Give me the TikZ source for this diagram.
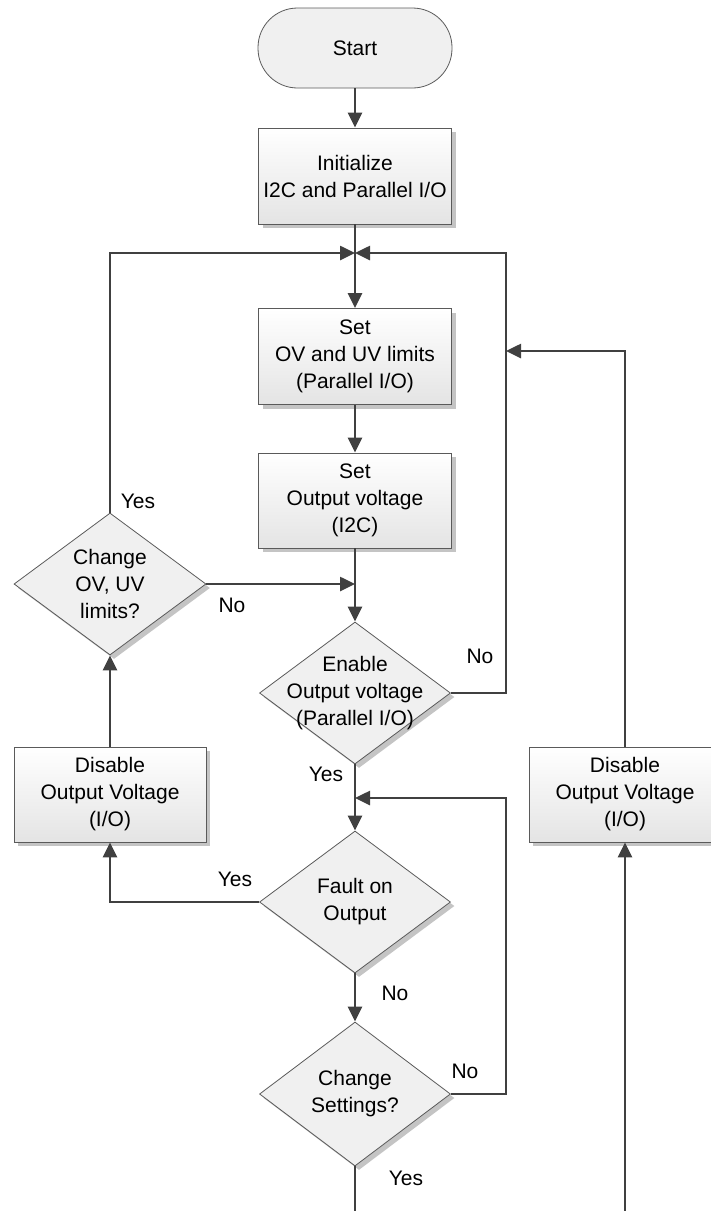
\documentclass[tikz,border=0pt]{standalone}
\usepackage{fontspec}
\setmainfont{Liberation Sans}
\usepackage{tikz}
\usetikzlibrary{arrows.meta,calc,positioning,shapes.geometric,shadows}
\definecolor{Wire}{HTML}{404040}
\definecolor{Edge}{HTML}{5A5A5A}
\definecolor{BoxTop}{HTML}{FFFFFF}
\definecolor{BoxBot}{HTML}{E4E4E4}
\definecolor{Diamond}{HTML}{F0F0F0}
\definecolor{Shade}{HTML}{C4C4C4}

\begin{document}
\begin{tikzpicture}[x=1pt,y=-1pt,
      font=\fontsize{21}{27}\selectfont,
      terminal/.style={rectangle,rounded corners=39.5pt,draw=Edge,fill=Diamond,
                       line width=0.8pt,minimum width=194pt,minimum height=80pt},
      process/.style={rectangle,draw=Edge,line width=0.8pt,top color=BoxTop,
                      bottom color=BoxBot,minimum width=193pt,minimum height=96pt,
                      align=center,inner sep=2pt,
                      drop shadow={shadow xshift=4pt,shadow yshift=-4pt,
                                   fill=Shade,opacity=1}},
      decision/.style={diamond,draw=Edge,fill=Diamond,line width=0.8pt,
                       minimum width=191pt,minimum height=142pt,inner sep=0pt,
                       drop shadow={shadow xshift=4pt,shadow yshift=-4pt,
                                    fill=Shade,opacity=1}},
      dtext/.style={align=center,inner sep=0pt},
      flow/.style={-{Triangle[length=15pt,width=14pt]},line width=2.6pt,draw=Wire},
      wire/.style={line width=2.6pt,draw=Wire}]
    \useasboundingbox (0,0) rectangle (711,1211);
    \clip (0,0) rectangle (711,1211);

    % main column
    \node[terminal] (start) at (355,48) {Start};
    \node[process] (init) at (355,176) {Initialize\\I2C and Parallel I/O};
    \node[process] (setlim) at (355,356.5) {Set\\OV and UV limits\\(Parallel I/O)};
    \node[process,minimum height=95pt] (setout) at (355,500.5)
      {Set\\Output voltage\\(I2C)};
    \node[decision] (enable) at (355,693) {};
    \node[dtext] (enable-t) at (enable) {Enable\\Output voltage\\(Parallel I/O)};
    \node[decision] (fault) at (355,902) {};
    \node[dtext] (fault-t) at (fault) {Fault on\\Output};
    \node[decision,minimum height=144pt] (chgset) at (355,1094) {};
    \node[dtext] (chgset-t) at (chgset) {Change\\Settings?};

    % side branches
    \node[decision,minimum width=192pt] (chgov) at (110,584) {};
    \node[dtext] (chgov-t) at (chgov) {Change\\OV, UV\\limits?};
    \node[process,minimum width=192pt,minimum height=95pt] (disL) at (110,794.5)
      {Disable\\Output Voltage\\(I/O)};
    \node[process,minimum width=192pt,minimum height=95pt] (disR) at (625,794.5)
      {Disable\\Output Voltage\\(I/O)};

    \coordinate (jtop) at (355,253);
    \coordinate (jmid) at (355,798);
    \coordinate (rjoin) at (506,351);
    \coordinate (endL) at (355,1215);
    \coordinate (endR) at (625,1215);

    % connectors
    \draw[flow] (start) -- (init);
    \draw[flow] (init) -- (setlim);
    \draw[flow] (setlim) -- (setout);
    \draw[flow] (setout) -- (enable);
    \draw[flow] (enable) -- (fault);
    \draw[flow] (fault) -- (chgset);
    \draw[flow] (chgov.north) |- (jtop);
    \draw[flow] (enable.east) -- (rjoin |- enable.east) |- (jtop);
    \draw[flow] (chgov.east) -- (chgov.east -| setout.south);
    \draw[flow] (chgset.east) -- (rjoin |- chgset.east) |- (jmid);
    \draw[flow] (fault.west) -| (disL.south);
    \draw[flow] (disL.north) -- (chgov.south);
    \draw[flow] (disR.north) |- (rjoin);
    \draw[wire] (chgset.south) -- (endL);
    \draw[flow] (endR) -- (disR.south);

    % branch labels
    \foreach \n/\x/\y/\t in {a/138/501/Yes,b/232/605/No,c/480/656/No,
        d/326/774/Yes,e/235/879/Yes,f/395/993/No,g/465/1071/No,h/406/1178/Yes}{%
      \node[inner sep=0pt] (lab\n) at (\x,\y) {\t};
    }
  \end{tikzpicture}
\end{document}
